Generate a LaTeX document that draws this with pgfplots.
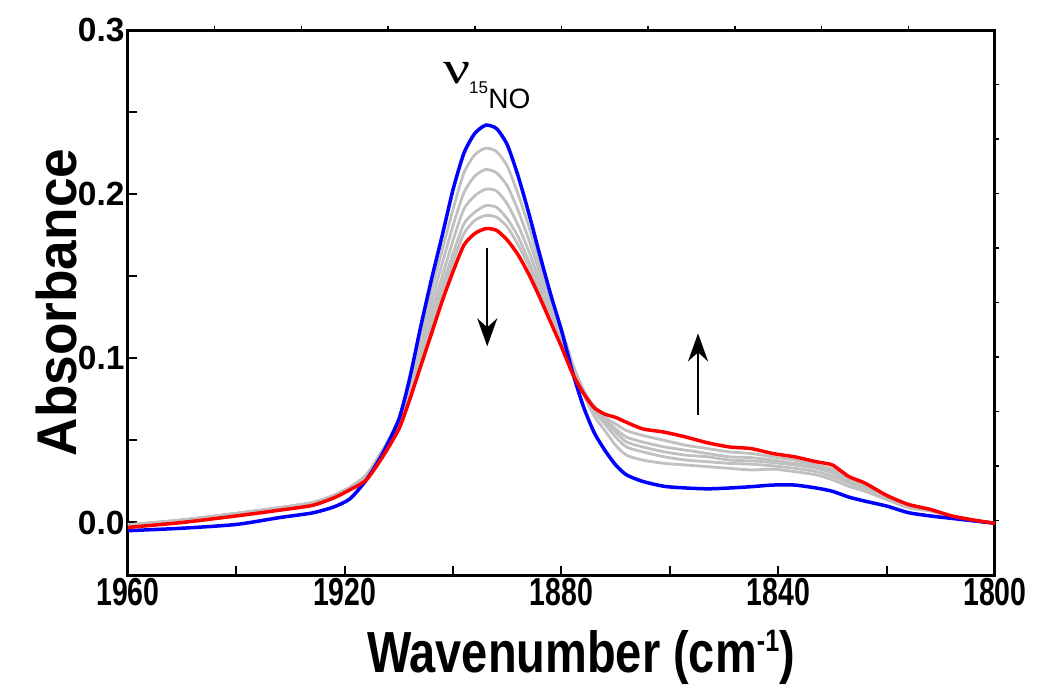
\documentclass[border=0pt]{standalone}
\usepackage{fontspec}
\usepackage{graphicx}
\setmainfont{Liberation Sans}
\newfontfamily\condfont[FakeStretch=0.73]{Liberation Sans}
\newfontfamily\labfont[FakeStretch=0.81]{Liberation Sans}
\newfontfamily\ylabfont[FakeStretch=0.95]{Liberation Sans}
\newfontfamily\seriffont{Liberation Serif}
\usepackage{pgfplots}
\usepackage{pgfplotstable}
\pgfplotsset{compat=1.18}
\usetikzlibrary{arrows.meta}

\pgfplotstableread{
x      b       g1      g2      g3      g4      g5      r
1960  -0.0050 -0.0015 -0.0015 -0.0015 -0.0015 -0.0015 -0.0030
1950  -0.0035  0.0015  0.0015  0.0015  0.0015  0.0015  0.0000
1940  -0.0012  0.0055  0.0055  0.0055  0.0055  0.0055  0.0040
1932   0.0030  0.0090  0.0090  0.0090  0.0090  0.0090  0.0075
1926   0.0058  0.0120  0.0120  0.0120  0.0120  0.0120  0.0104
1922   0.0095  0.0165  0.0165  0.0165  0.0165  0.0165  0.0150
1919   0.0145  0.0215  0.0215  0.0215  0.0215  0.0215  0.0200
1916   0.0260  0.0290  0.0290  0.0290  0.0290  0.0290  0.0260
1913   0.0420  0.0440  0.0440  0.0440  0.0440  0.0440  0.0400
1910   0.0630  0.0630  0.0620  0.0610  0.0605  0.0600  0.0570
1908   0.0880  0.0850  0.0830  0.0810  0.0790  0.0780  0.0750
1906   0.1190  0.1140  0.1090  0.1050  0.1010  0.0990  0.0950
1904   0.1480  0.1410  0.1340  0.1280  0.1230  0.1200  0.1150
1902   0.1750  0.1660  0.1580  0.1500  0.1440  0.1400  0.1350
1900   0.2030  0.1910  0.1810  0.1720  0.1640  0.1590  0.1530
1898   0.2250  0.2130  0.2010  0.1910  0.1820  0.1760  0.1690
1896   0.2370  0.2240  0.2110  0.1990  0.1890  0.1840  0.1760
1894   0.2420  0.2280  0.2150  0.2030  0.1930  0.1870  0.1790
1892   0.2400  0.2260  0.2130  0.2020  0.1920  0.1860  0.1780
1890   0.2300  0.2170  0.2050  0.1940  0.1850  0.1800  0.1720
1888   0.2110  0.2000  0.1900  0.1810  0.1740  0.1690  0.1630
1886   0.1880  0.1800  0.1720  0.1650  0.1590  0.1560  0.1510
1884   0.1630  0.1570  0.1520  0.1470  0.1430  0.1400  0.1370
1882   0.1390  0.1370  0.1340  0.1310  0.1290  0.1270  0.1220
1880   0.1170  0.1180  0.1170  0.1160  0.1140  0.1120  0.1070
1878   0.0920  0.0970  0.0970  0.0960  0.0950  0.0940  0.0910
1876   0.0710  0.0790  0.0810  0.0810  0.0810  0.0800  0.0790
1874   0.0550  0.0650  0.0680  0.0700  0.0700  0.0710  0.0700
1872   0.0440  0.0560  0.0600  0.0620  0.0630  0.0640  0.0660
1870   0.0350  0.0470  0.0520  0.0550  0.0570  0.0600  0.0640
1868   0.0290  0.0410  0.0460  0.0490  0.0520  0.0560  0.0610
1865   0.0250  0.0380  0.0430  0.0460  0.0490  0.0530  0.0570
1861   0.0220  0.0360  0.0400  0.0430  0.0460  0.0500  0.0550
1857   0.0210  0.0350  0.0380  0.0410  0.0440  0.0470  0.0520
1853   0.0205  0.0340  0.0370  0.0400  0.0420  0.0450  0.0485
1849   0.0210  0.0330  0.0360  0.0380  0.0400  0.0430  0.0460
1845   0.0218  0.0320  0.0355  0.0375  0.0395  0.0420  0.0450
1841   0.0228  0.0325  0.0345  0.0365  0.0380  0.0400  0.0420
1837   0.0228  0.0310  0.0330  0.0350  0.0360  0.0380  0.0400
1833   0.0210  0.0290  0.0310  0.0330  0.0340  0.0350  0.0370
1830   0.0190  0.0260  0.0280  0.0300  0.0310  0.0325  0.0350
1827   0.0155  0.0220  0.0240  0.0250  0.0260  0.0270  0.0280
1824   0.0130  0.0190  0.0200  0.0210  0.0220  0.0230  0.0240
1820   0.0100  0.0140  0.0150  0.0160  0.0160  0.0165  0.0165
1816   0.0060  0.0090  0.0100  0.0105  0.0110  0.0110  0.0110
1812   0.0040  0.0070  0.0072  0.0075  0.0078  0.0080  0.0080
1808   0.0025  0.0040  0.0040  0.0040  0.0040  0.0040  0.0040
1804   0.0010  0.0015  0.0015  0.0015  0.0015  0.0015  0.0015
1800  -0.0005 -0.0005 -0.0005 -0.0005 -0.0005 -0.0005 -0.0005
}\spectra

\definecolor{grayline}{RGB}{192,192,192}

\begin{document}
\begin{tikzpicture}
\begin{axis}[
  scale only axis, width=867pt, height=545pt,
  x dir=reverse, xmin=1800, xmax=1960, ymin=-0.032, ymax=0.3,
  xtick={1800,1840,1880,1920,1960},
  minor xtick={1820,1860,1900,1940},
  ytick={0,0.1,0.2,0.3},
  minor ytick={0.05,0.15,0.25},
  xtick pos=left, ytick pos=left,
  tick align=inside,
  major tick length=9pt, minor tick length=9pt,
  every tick/.style={black, line width=2pt},
  axis line style={line width=3pt},
  /pgf/number format/assume math mode=true,
  yticklabel style={font=\fontsize{33.5}{34}\selectfont\bfseries,
     /pgf/number format/fixed, /pgf/number format/fixed zerofill,
     /pgf/number format/precision=1},
  xticklabel style={font=\fontsize{39}{40}\selectfont\condfont\bfseries,
     /pgf/number format/1000 sep={}},
  scaled y ticks=false,
  xlabel={Wavenumber (cm\raisebox{21pt}{\fontsize{31}{31}\selectfont -1})},
  xlabel style={at={(axis description cs:0.5225,-0.178)}, anchor=base,
     font=\fontsize{58}{58}\selectfont\labfont\bfseries, inner sep=0pt},
  ylabel={Absorbance},
  ylabel style={at={(axis description cs:-0.083,0.5)}, anchor=center, rotate=0,
     font=\fontsize{56}{56}\selectfont\ylabfont\bfseries, inner sep=0pt},
]
\addplot[grayline, line width=2.8pt, smooth, tension=0.4] table[x=x, y=g1] {\spectra};
\addplot[grayline, line width=2.8pt, smooth, tension=0.4] table[x=x, y=g2] {\spectra};
\addplot[grayline, line width=2.8pt, smooth, tension=0.4] table[x=x, y=g3] {\spectra};
\addplot[grayline, line width=2.8pt, smooth, tension=0.4] table[x=x, y=g4] {\spectra};
\addplot[grayline, line width=2.8pt, smooth, tension=0.4] table[x=x, y=g5] {\spectra};
\addplot[blue, line width=3.5pt, smooth, tension=0.4] table[x=x, y=b] {\spectra};
\addplot[red, line width=3.5pt, smooth, tension=0.4] table[x=x, y=r] {\spectra};

\draw[line width=2.4pt, -{Stealth[length=28pt, width=20pt, inset=9pt]}]
  (axis cs:1893.7,0.167) -- (axis cs:1893.7,0.1073);
\draw[line width=2.4pt, -{Stealth[length=28pt, width=20pt, inset=9pt]}]
  (axis cs:1854.8,0.0652) -- (axis cs:1854.8,0.1152);

\node[anchor=base west, inner sep=0pt] at (axis cs:1901.9,0.2677)
  {{\fontsize{46}{46}\selectfont\seriffont\scalebox{1.3}[1]{ν}}\kern-1pt\raisebox{-10pt}{\fontsize{17}{17}\selectfont 15}\kern0.5pt\raisebox{-25pt}{\fontsize{28}{28}\selectfont NO}};
\end{axis}
\begin{axis}[
  scale only axis, width=867pt, height=545pt,
  xmin=0, xmax=10, ymin=0, ymax=10,
  xtick={1,...,9}, ytick={1,...,9},
  xticklabels={}, yticklabels={},
  xtick pos=right, ytick pos=right,
  tick align=outside, major tick length=4pt,
  every tick/.style={black, line width=1.5pt},
  axis line style={draw=none},
]
\end{axis}
\pgfresetboundingbox
\path (current axis.south west) ++(-128pt,-114pt) rectangle ++(1041pt,689pt);
\end{tikzpicture}
\end{document}
